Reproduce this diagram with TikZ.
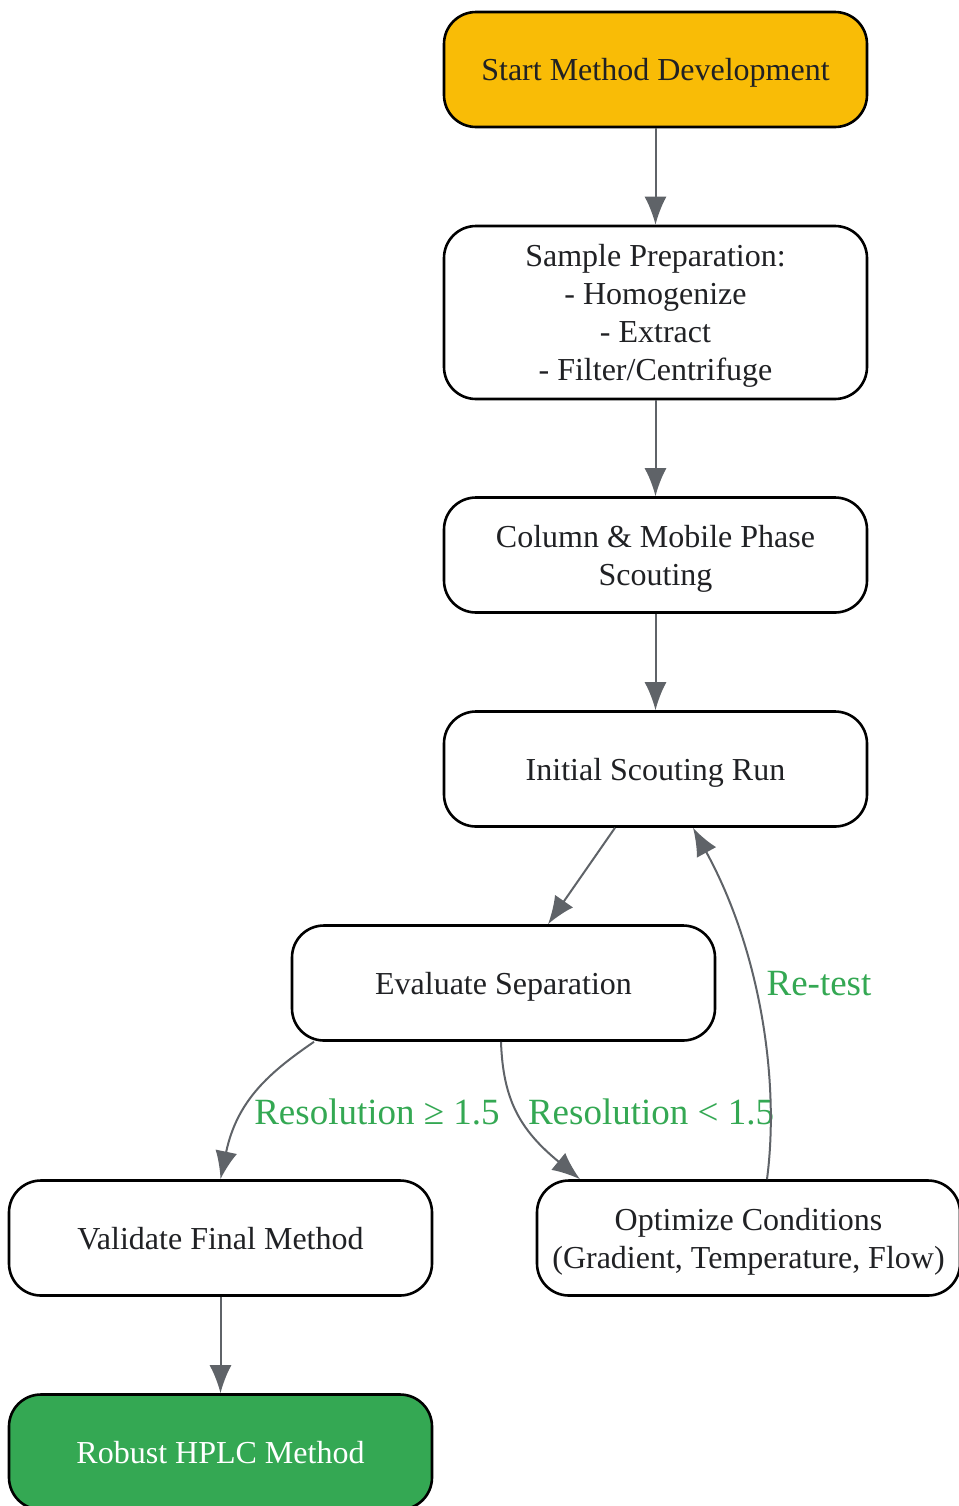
\documentclass[tikz,border=0pt]{standalone}
\usepackage{fontspec}
\setmainfont{Liberation Serif}
\usetikzlibrary{arrows.meta,positioning}
\definecolor{startfill}{HTML}{F9BC06}
\definecolor{donefill}{HTML}{34A853}
\definecolor{edgegray}{HTML}{5F6368}
\definecolor{labelgreen}{HTML}{34A853}
\definecolor{textdark}{HTML}{202124}

\begin{document}
\begin{tikzpicture}[x=0.5pt,y=-0.5pt,
stage/.style={rectangle, rounded corners=16pt, draw=black, line width=1.3pt,
fill=white, minimum width=211.5pt, minimum height=57.5pt, align=center,
text=textdark, inner sep=4pt, text depth=0pt, font=\fontsize{16}{19}\selectfont},
flow/.style={-{Latex[length=14pt,width=11pt]}, draw=edgegray, line width=1pt},
cond/.style={text=labelgreen, inner sep=0pt, font=\fontsize{18.5}{21}\selectfont}]

\useasboundingbox (0,0) rectangle (959,1506);

\node[stage, fill=startfill] at (655.5, 69.5) (start) {Start Method Development};

\node[stage, minimum height=86.5pt] at (655.5, 312.5) (prep) {
Sample Preparation:\\
- Homogenize\\
- Extract\\
- Filter/Centrifuge
};

\node[stage] at (655.5, 555) (scout) {Column \& Mobile Phase\\Scouting};

\node[stage] at (655.5, 769) (init) {Initial Scouting Run};

\node[stage] at (503.5, 983) (eval) {Evaluate Separation};

\node[stage] at (220.5, 1238) (valid) {Validate Final Method};

\node[stage] at (748.5, 1238) (optim) {Optimize Conditions\\(Gradient, Temperature, Flow)};

\node[stage, fill=donefill, text=white] at (220.5, 1452) (robust) {Robust HPLC Method};

% edge labels
\node[cond] at (377, 1112) (lblpass) {Resolution ≥ 1.5};
\node[cond] at (651, 1112) (lblfail) {Resolution < 1.5};
\node[cond] at (819, 984) (lblretest) {Re-test};

\draw[flow] (start.south) -- (prep.north);
\draw[flow] (prep.south) -- (scout.north);
\draw[flow] (scout.south) -- (init.north);
\draw[flow] ([xshift=-20.25pt]init.south) -- ([xshift=22.25pt]eval.north);
\draw[flow] ([xshift=-94.75pt]eval.south) .. controls (270, 1072) and (237, 1100) .. (valid.north);
\draw[flow] ([xshift=-1.25pt]eval.south) .. controls (503, 1100) and (520, 1130) .. ([xshift=-84.25pt]optim.north);
\draw[flow] ([xshift=9.25pt]optim.north) .. controls (780, 1080) and (760, 950) .. ([xshift=18.75pt]init.south);
\draw[flow] (valid.south) -- (robust.north);

\end{tikzpicture}
\end{document}
